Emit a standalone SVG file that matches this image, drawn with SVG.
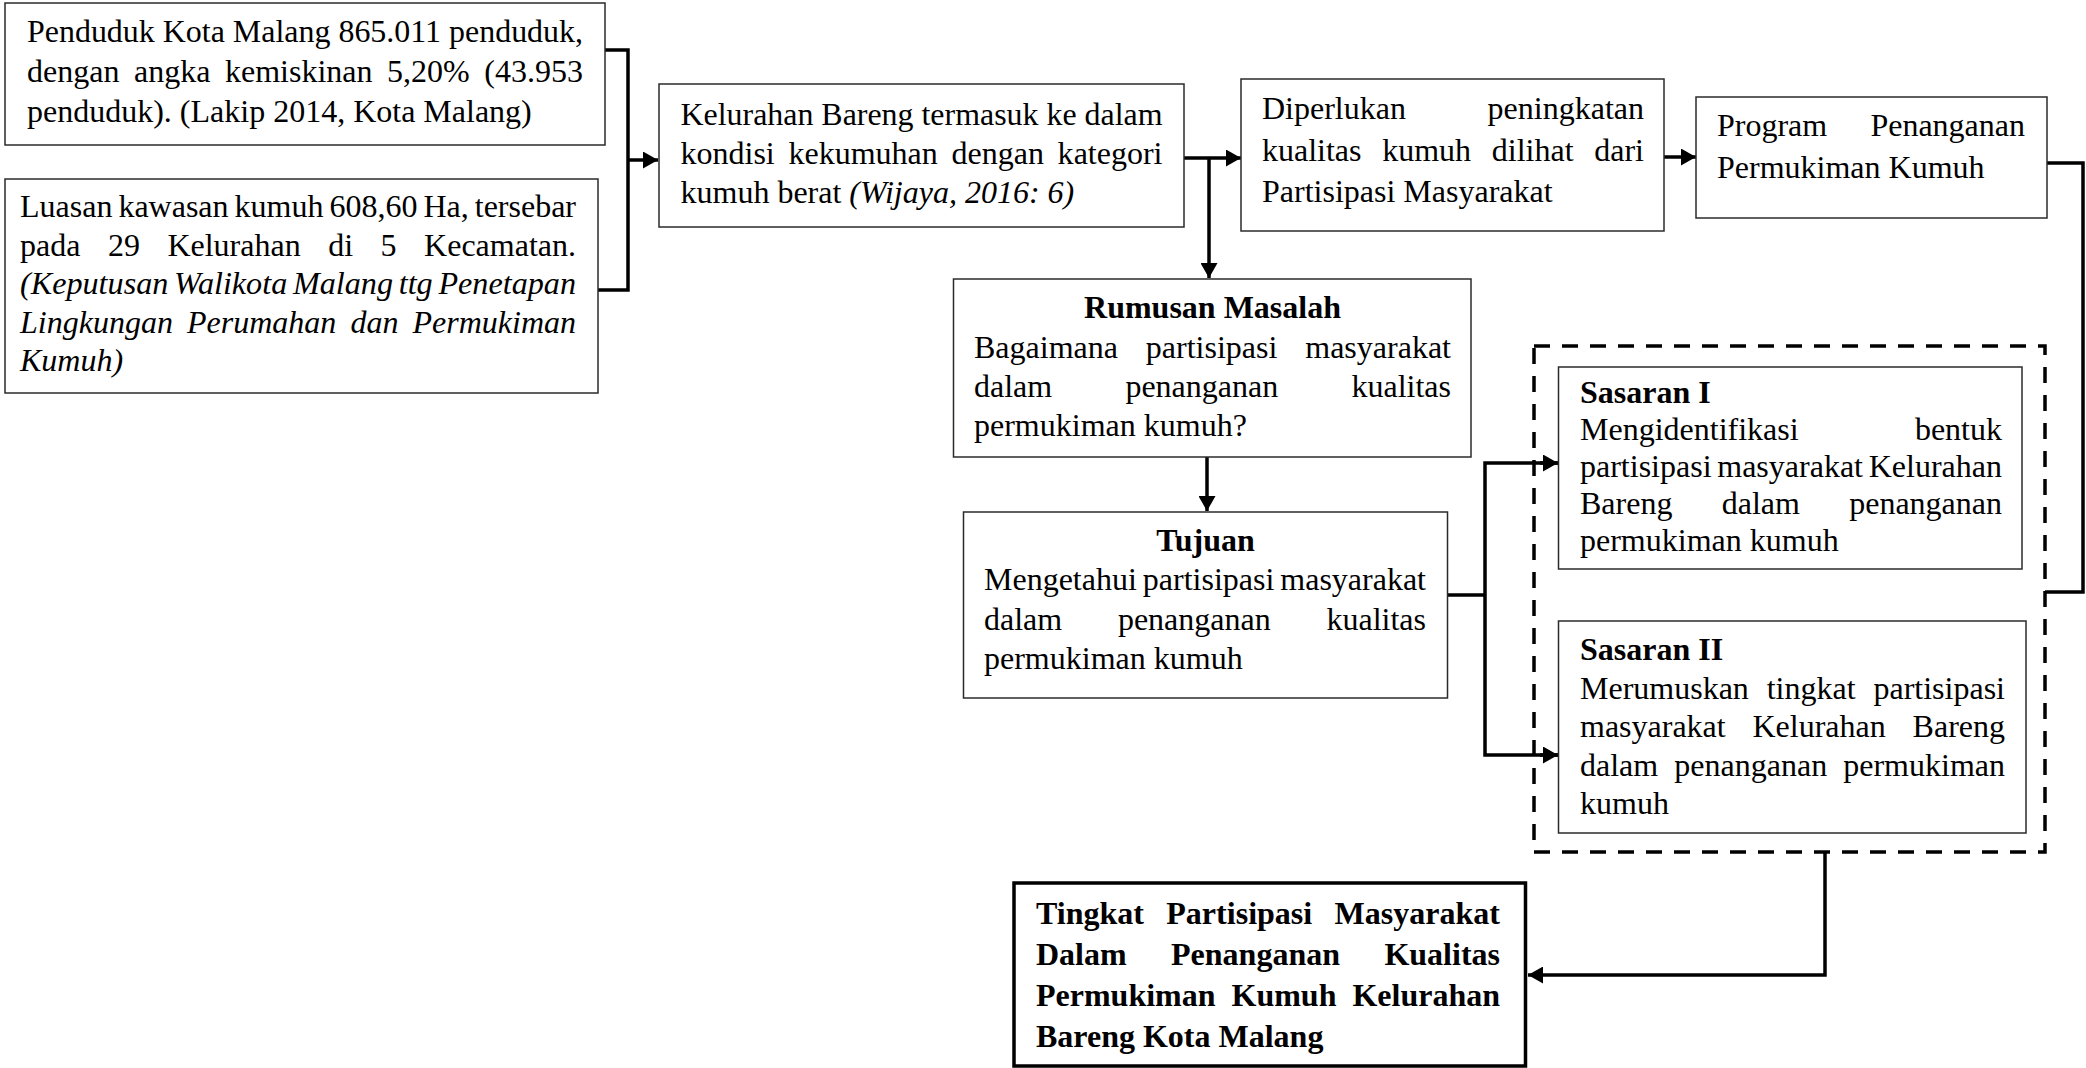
<svg xmlns="http://www.w3.org/2000/svg" width="2086" height="1068" viewBox="0 0 2086 1068">
<style>
.box{fill:#fff;stroke:#2b2b2b;stroke-width:1.5}
.fin{fill:#fff;stroke:#000;stroke-width:3.5}
.dash{fill:none;stroke:#000;stroke-width:3.5;stroke-dasharray:16 12}
.t{font-family:"Liberation Serif","Times New Roman",serif;font-size:32px;fill:#000}
.b{font-weight:bold}
.i{font-style:italic}
.c{fill:none;stroke:#000;stroke-width:3.5}
</style>
<defs>
<marker id="ah" markerUnits="userSpaceOnUse" markerWidth="16" markerHeight="17" refX="15" refY="8.5" orient="auto">
<path d="M0,0 L15,8.5 L0,17 z" fill="#000"/>
</marker>
</defs>
<rect width="2086" height="1068" fill="#fff"/>

<g id="connectors">
<polyline class="c" points="605,50 628,50 628,290 598,290"/>
<line class="c" x1="628" y1="160" x2="658" y2="160" marker-end="url(#ah)"/>
<line class="c" x1="1184" y1="158" x2="1241" y2="158" marker-end="url(#ah)"/>
<line class="c" x1="1209" y1="158" x2="1209" y2="278" marker-end="url(#ah)"/>
<line class="c" x1="1664" y1="157" x2="1696" y2="157" marker-end="url(#ah)"/>
<line class="c" x1="1207" y1="457" x2="1207" y2="511" marker-end="url(#ah)"/>
<polyline class="c" points="1447,595 1485,595"/>
<polyline class="c" points="1558,463 1485,463 1485,755 1558,755"/>
<line class="c" x1="1540" y1="463" x2="1558" y2="463" marker-end="url(#ah)"/>
<line class="c" x1="1540" y1="755" x2="1558" y2="755" marker-end="url(#ah)"/>
<polyline class="c" points="2047,163 2083,163 2083,592 2045,592"/>
<polyline class="c" points="1825,852 1825,975 1528,975" marker-end="url(#ah)"/>
</g>

<g id="n1">
<rect class="box" x="5" y="3" width="600" height="142"/>
<text class="t" x="27" y="42" textLength="556" lengthAdjust="spacingAndGlyphs">Penduduk Kota Malang 865.011 penduduk,</text>
<text class="t" x="27" y="82" textLength="556" lengthAdjust="spacingAndGlyphs" style="word-spacing:6.6px">dengan angka kemiskinan 5,20% (43.953</text>
<text class="t" x="27" y="122">penduduk). (Lakip 2014, Kota Malang)</text>
</g>

<g id="n2">
<rect class="box" x="5" y="179" width="593" height="214"/>
<text class="t" x="20" y="217" textLength="556" lengthAdjust="spacingAndGlyphs" style="word-spacing:-2px">Luasan kawasan kumuh 608,60 Ha, tersebar</text>
<text class="t" x="20" y="255.5" textLength="556" lengthAdjust="spacingAndGlyphs" style="word-spacing:19.5px">pada 29 Kelurahan di 5 Kecamatan.</text>
<text class="t i" x="20" y="294" textLength="556" lengthAdjust="spacingAndGlyphs" style="word-spacing:-2.3px">(Keputusan Walikota Malang ttg Penetapan</text>
<text class="t i" x="20" y="332.5" textLength="556" lengthAdjust="spacingAndGlyphs" style="word-spacing:6.1px">Lingkungan Perumahan dan Permukiman</text>
<text class="t i" x="20" y="371">Kumuh)</text>
</g>

<g id="n3">
<rect class="box" x="659" y="84" width="525" height="143"/>
<text class="t" x="680.5" y="125" textLength="482" lengthAdjust="spacingAndGlyphs">Kelurahan Bareng termasuk ke dalam</text>
<text class="t" x="680.5" y="164" textLength="482" lengthAdjust="spacingAndGlyphs" style="word-spacing:5.7px">kondisi kekumuhan dengan kategori</text>
<text class="t" x="680.5" y="203">kumuh berat <tspan class="i">(Wijaya, 2016: 6)</tspan></text>
</g>

<g id="n4">
<rect class="box" x="1241" y="79" width="423" height="152"/>
<text class="t" x="1262" y="119">Diperlukan</text>
<text class="t" x="1644" y="119" text-anchor="end">peningkatan</text>
<text class="t" x="1262" y="160.5" textLength="382" lengthAdjust="spacingAndGlyphs" style="word-spacing:12.7px">kualitas kumuh dilihat dari</text>
<text class="t" x="1262" y="202">Partisipasi Masyarakat</text>
</g>

<g id="n5">
<rect class="box" x="1696" y="97" width="351" height="121"/>
<text class="t" x="1717" y="136">Program</text>
<text class="t" x="2025" y="136" text-anchor="end">Penanganan</text>
<text class="t" x="1717" y="178">Permukiman Kumuh</text>
</g>

<g id="n6">
<rect class="box" x="953.5" y="279" width="517.5" height="178"/>
<text class="t b" x="1212.5" y="318" text-anchor="middle">Rumusan Masalah</text>
<text class="t" x="974" y="357.5" textLength="477" lengthAdjust="spacingAndGlyphs" style="word-spacing:19.9px">Bagaimana partisipasi masyarakat</text>
<text class="t" x="974" y="397" textLength="477" lengthAdjust="spacingAndGlyphs" style="word-spacing:65.2px">dalam penanganan kualitas</text>
<text class="t" x="974" y="436">permukiman kumuh?</text>
</g>

<g id="n7">
<rect class="box" x="963.5" y="512" width="484" height="186"/>
<text class="t b" x="1205.5" y="551" text-anchor="middle">Tujuan</text>
<text class="t" x="984" y="590" textLength="442" lengthAdjust="spacingAndGlyphs" style="word-spacing:-2px">Mengetahui partisipasi masyarakat</text>
<text class="t" x="984" y="629.5" textLength="442" lengthAdjust="spacingAndGlyphs" style="word-spacing:47.7px">dalam penanganan kualitas</text>
<text class="t" x="984" y="668.5">permukiman kumuh</text>
</g>

<g id="group-sasaran">
<rect class="dash" x="1534" y="346" width="511" height="506"/>
</g>

<g id="n8">
<rect class="box" x="1558.5" y="367" width="463.5" height="202"/>
<text class="t b" x="1580" y="403">Sasaran I</text>
<text class="t" x="1580" y="440">Mengidentifikasi</text>
<text class="t" x="2002" y="440" text-anchor="end">bentuk</text>
<text class="t" x="1580" y="477" textLength="422" lengthAdjust="spacingAndGlyphs" style="word-spacing:-2.3px">partisipasi masyarakat Kelurahan</text>
<text class="t" x="1580" y="514" textLength="422" lengthAdjust="spacingAndGlyphs" style="word-spacing:41.3px">Bareng dalam penanganan</text>
<text class="t" x="1580" y="551">permukiman kumuh</text>
</g>

<g id="n9">
<rect class="box" x="1558.5" y="621" width="467.5" height="212"/>
<text class="t b" x="1580" y="660">Sasaran II</text>
<text class="t" x="1580" y="698.5" textLength="425" lengthAdjust="spacingAndGlyphs" style="word-spacing:9.85px">Merumuskan tingkat partisipasi</text>
<text class="t" x="1580" y="737" textLength="425" lengthAdjust="spacingAndGlyphs" style="word-spacing:18.8px">masyarakat Kelurahan Bareng</text>
<text class="t" x="1580" y="775.5" textLength="425" lengthAdjust="spacingAndGlyphs" style="word-spacing:8.1px">dalam penanganan permukiman</text>
<text class="t" x="1580" y="814">kumuh</text>
</g>

<g id="n10">
<rect class="fin" x="1014" y="883" width="511.5" height="183"/>
<text class="t b" x="1036" y="924" textLength="464" lengthAdjust="spacingAndGlyphs" style="word-spacing:14.2px">Tingkat Partisipasi Masyarakat</text>
<text class="t b" x="1036" y="965" textLength="464" lengthAdjust="spacingAndGlyphs" style="word-spacing:36.4px">Dalam Penanganan Kualitas</text>
<text class="t b" x="1036" y="1006" textLength="464" lengthAdjust="spacingAndGlyphs" style="word-spacing:8px">Permukiman Kumuh Kelurahan</text>
<text class="t b" x="1036" y="1047">Bareng Kota Malang</text>
</g>
</svg>
